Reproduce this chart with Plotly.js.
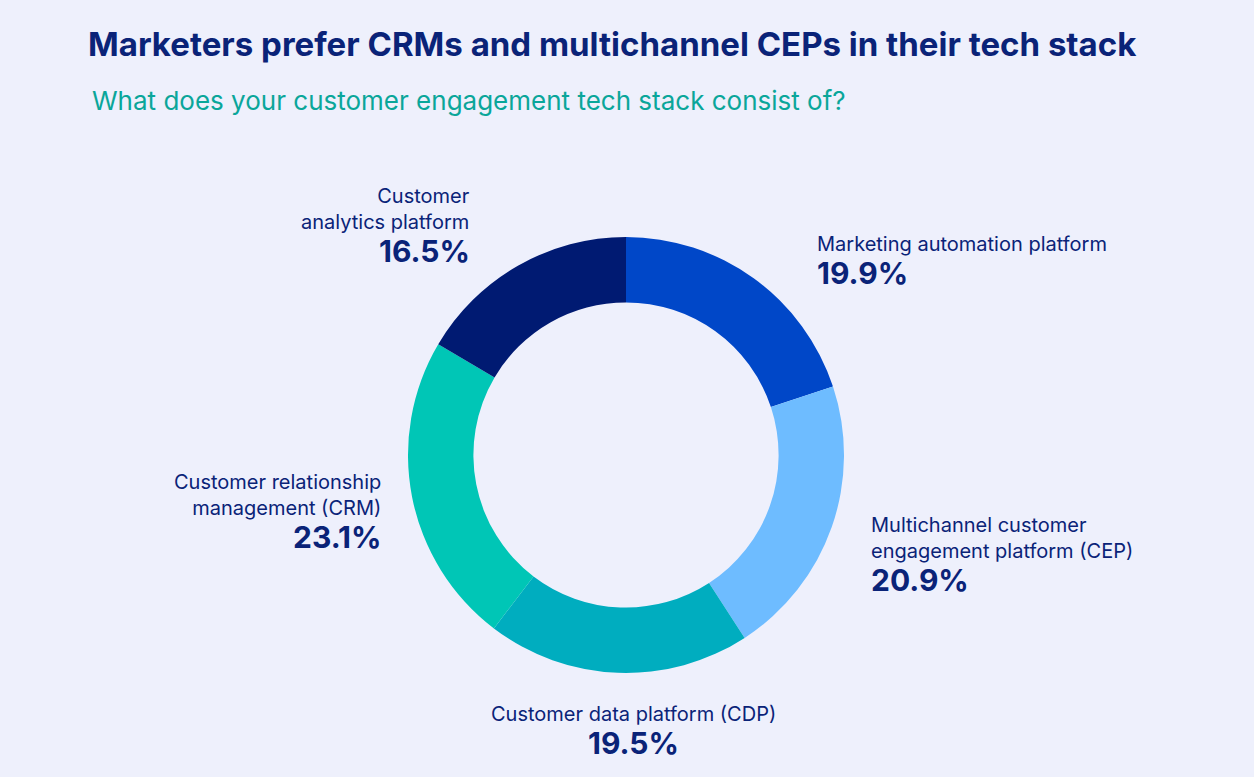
<!DOCTYPE html>
<html>
<head>
<meta charset="utf-8">
<script src="https://cdn.plot.ly/plotly-3.0.1.min.js"></script>
<style>
  html, body { margin: 0; padding: 0; background: #eef0fc; }
  #chart { width: 1254px; height: 777px; }
</style>
</head>
<body>
<div id="chart"></div>
<script>
const categories = [
  "Marketing automation platform",
  "Multichannel customer engagement platform (CEP)",
  "Customer data platform (CDP)",
  "Customer relationship management (CRM)",
  "Customer analytics platform"
];
const values = [19.9, 20.9, 19.5, 23.1, 16.5];
const displayLabels = [
  "Marketing automation platform",
  "Multichannel customer<br>engagement platform (CEP)",
  "Customer data platform (CDP)",
  "Customer relationship<br>management (CRM)",
  "Customer<br>analytics platform"
];
const sliceColors = ["#0047c8", "#6ebcff", "#00adbf", "#00c6b6", "#001a72"];

const W = 1254, H = 777;
const NAVY = "#0a2378";
const FONT = "Inter, 'Open Sans', sans-serif";

// label placement (pixel positions converted to paper coords)
const labelPos = [
  {x: 815, y: 230, xanchor: "left", align: "left"},
  {x: 869, y: 511, xanchor: "left", align: "left"},
  {x: 633, y: 700, xanchor: "center", align: "center"},
  {x: 383, y: 468, xanchor: "right", align: "right"},
  {x: 472, y: 182, xanchor: "right", align: "right"}
];
const lineCount = displayLabels.map(s => s.split("<br>").length);

const annotations = [];
categories.forEach((c, i) => {
  const p = labelPos[i];
  annotations.push({
    xref: "paper", yref: "paper",
    x: p.x / W, y: 1 - p.y / H,
    xanchor: p.xanchor, yanchor: "top", align: p.align,
    text: displayLabels[i], showarrow: false,
    font: {family: FONT, size: 20, color: NAVY}
  });
  const py = p.y + lineCount[i] * 26 - 3;
  annotations.push({
    xref: "paper", yref: "paper",
    x: p.x / W, y: 1 - py / H,
    xanchor: p.xanchor, yanchor: "top", align: p.align,
    text: "<b>" + values[i].toFixed(1) + "%</b>", showarrow: false,
    font: {family: FONT, size: 30, color: NAVY}
  });
});

annotations.push({
  xref: "paper", yref: "paper", x: 90 / W, y: 1 - 83 / H,
  xanchor: "left", yanchor: "top", align: "left", showarrow: false,
  text: "What does your customer engagement tech stack consist of?",
  font: {family: FONT, size: 26, color: "#0aa69a"}
});

const cx = 626, cy = 455, r = 218;
const trace = {
  type: "pie",
  labels: categories,
  values: values,
  sort: false,
  direction: "clockwise",
  rotation: 0,
  hole: 0.70,
  marker: {colors: sliceColors, line: {width: 0}},
  textinfo: "none",
  hoverinfo: "label+percent",
  showlegend: false,
  domain: {
    x: [(cx - r) / W, (cx + r) / W],
    y: [1 - (cy + r) / H, 1 - (cy - r) / H]
  }
};

const layout = {
  width: W, height: H,
  margin: {l: 0, r: 0, t: 0, b: 0},
  paper_bgcolor: "#eef0fc",
  plot_bgcolor: "#eef0fc",
  showlegend: false,
  title: {
    text: "<b>Marketers prefer CRMs and multichannel CEPs in their tech stack</b>",
    x: 88 / W, xanchor: "left", xref: "paper",
    y: 1 - 44 / H, yanchor: "middle", yref: "paper",
    font: {family: FONT, size: 33, color: NAVY}
  },
  annotations: annotations
};

Plotly.newPlot("chart", [trace], layout, {displayModeBar: false, staticPlot: true});
</script>
</body>
</html>
